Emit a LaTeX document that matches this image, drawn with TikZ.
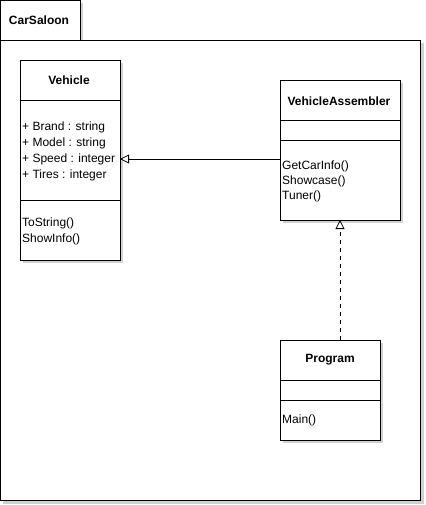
\documentclass[tikz,border=0pt]{standalone}
\usepackage{fontspec}
\setmainfont{Liberation Sans}
\usetikzlibrary{arrows.meta}
\begin{document}
\begin{tikzpicture}[x=1pt,y=-1pt,
  box/.style={draw=black,fill=white,line width=0.8pt},
  shadowbox/.style={fill=black!18,draw=none},
  lbl/.style={inner sep=0pt,anchor=west,font=\fontsize{12}{14}\selectfont},
  title/.style={inner sep=0pt,font=\bfseries\fontsize{12}{14}\selectfont},
  gen/.style={-{Triangle[open,length=9pt,width=9pt]},line width=0.8pt}]
\useasboundingbox (0,0) rectangle (425,505);
% package
\fill[black!18] (3,3) rectangle (83,43);
\fill[black!18] (3,43) rectangle (424,504);
\draw[box] (0,0.5) rectangle (80,40);
\draw[box] (0.5,40) rectangle (420,500);
\node[title] (pkg) at (39,20) {CarSaloon};
% Vehicle
\fill[shadowbox] (23,63) rectangle (123,263);
\draw[box] (20,60) rectangle (120,260);
\draw[line width=0.8pt] (20,100) -- (120,100);
\draw[line width=0.8pt] (20,200) -- (120,200);
\coordinate (vehR) at (120,159);
\node[title] (veh) at (69,80) {Vehicle};
\node[lbl] (a1) at (22,127) {+ Brand : string};
\node[lbl] (a2) at (22,143) {+ Model : string};
\node[lbl] (a3) at (22,159) {+ Speed : integer};
\node[lbl] (a4) at (22,175) {+ Tires : integer};
\node[lbl] (m1) at (22,223) {ToString()};
\node[lbl] (m2) at (22,239) {ShowInfo()};
% VehicleAssembler
\fill[shadowbox] (283,83) rectangle (403,223);
\draw[box] (280,80) rectangle (400,220);
\draw[line width=0.8pt] (280,120) -- (400,120);
\draw[line width=0.8pt] (280,140) -- (400,140);
\coordinate (vaL) at (280,159);
\coordinate (vaB) at (340,220);
\node[title] (va) at (339,101) {VehicleAssembler};
\node[lbl] (b1) at (282,166) {GetCarInfo()};
\node[lbl] (b2) at (282,181) {Showcase()};
\node[lbl] (b3) at (282,196) {Tuner()};
% Program
\fill[shadowbox] (283,343) rectangle (383,443);
\draw[box] (280,340) rectangle (380,440);
\draw[line width=0.8pt] (280,380) -- (380,380);
\draw[line width=0.8pt] (280,400) -- (380,400);
\coordinate (prT) at (340,340);
\node[title] (pr) at (330,360) {Program};
\node[lbl] (c1) at (282,420) {Main()};
% connectors
\draw[gen] (vaL) -- (vehR);
\draw[gen,dash pattern=on 4pt off 4pt] (prT) -- (vaB);
\end{tikzpicture}
\end{document}
